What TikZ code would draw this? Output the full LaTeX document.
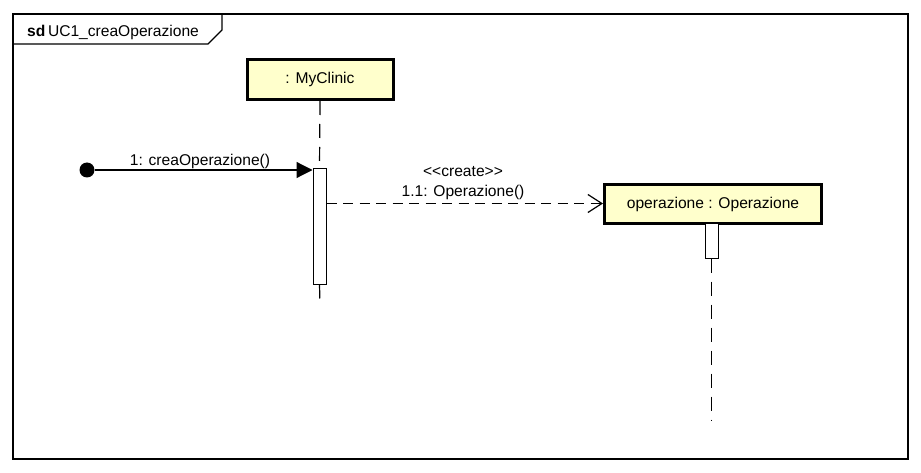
\documentclass[tikz,border=0pt]{standalone}
\usepackage{fontspec}
\setmainfont{Liberation Sans}
\usetikzlibrary{arrows.meta,calc}
\definecolor{HeadClr}{rgb}{1,1,0.8}

\begin{document}
\begin{tikzpicture}[x=1pt,y=-1pt,font=\fontsize{15.6}{18}\selectfont,
  head/.style={draw,line width=3pt,fill=HeadClr,inner sep=0pt},
  activ/.style={draw,line width=1pt,fill=white,inner sep=0pt,minimum width=13pt},
  lifeline/.style={line width=1.2pt,dash pattern=on 14pt off 9pt},
  msgdash/.style={line width=1.2pt,dash pattern=on 10pt off 6.5pt}]

\useasboundingbox (0,0) rectangle (921,473);

% frame
\draw[line width=1.2pt] (13,14) rectangle (908,459);
\draw[line width=1.2pt] (13,44) -- (208,44) -- (222,30) -- (222,14);
\node[anchor=base west,inner sep=0pt] (title) at (27,37) {\textbf{sd}\,UC1\_creaOperazione};

\node[head,minimum width=146pt,minimum height=40pt] (clinic) at (320,79.5) {: MyClinic};
\node[head,minimum width=217pt,minimum height=39pt] (oper) at (713,204) {operazione : Operazione};

\node[activ,minimum height=115pt] (act1) at (319.5,226.5) {};
\node[activ,minimum height=34pt] (act2) at (711.5,241) {};

\coordinate (clinicEnd) at (320,305);
\coordinate (operEnd) at (711.5,420);

\draw[lifeline] (clinic.south) -- (act1.north);
\draw[lifeline] (act1.south) -- (clinicEnd);
\draw[lifeline] (act2.south) -- (operEnd);

\node[circle,fill=black,minimum size=15pt,inner sep=0pt] (start) at (87,170) {};

\draw[line width=1.2pt,-{Triangle[length=16pt,width=16pt]}] (start) -- (start -| act1.west);
\node[anchor=base] (msg1) at (200,166) {1: creaOperazione()};

\coordinate (m2) at ($(act1.north east)+(0,35)$);
\draw[msgdash,-{Straight Barb[length=14pt,width=18pt,line width=1.2pt]}] (m2) -- (m2 -| oper.west);
\node[anchor=base] (stereo) at (463,177) {{<}{<}create{>}{>}};
\node[anchor=base] (msg2) at (463,197) {1.1: Operazione()};

\end{tikzpicture}
\end{document}
